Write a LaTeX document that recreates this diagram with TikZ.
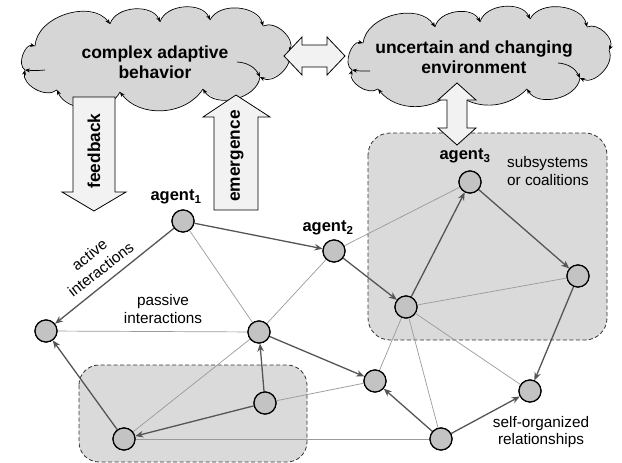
\documentclass[tikz,border=0pt]{standalone}
\usepackage{fontspec}
\setmainfont{Liberation Sans}
\usetikzlibrary{arrows.meta}
\definecolor{cloudfill}{HTML}{D6D6D6}
\definecolor{boxfill}{HTML}{DADADA}
\definecolor{nodefill}{HTML}{C3C3C3}
\definecolor{arrowfill}{HTML}{F2F2F2}
\definecolor{activecol}{HTML}{555555}
\definecolor{passivecol}{HTML}{9A9A9A}
\tikzset{
  agentnode/.style={circle,draw=black,line width=1.2pt,fill=nodefill,minimum size=22pt,inner sep=0pt},
  active/.style={draw=activecol,line width=1.3pt,-{Stealth[length=8pt,width=6.5pt,inset=2.5pt]}},
  passive/.style={draw=passivecol,line width=0.7pt},
  cloudline/.style={draw=black,line width=0.7pt,-{Stealth[length=5pt,width=4pt]}},
  bigarrow/.style={draw=black,line width=0.8pt,fill=arrowfill},
  groupbox/.style={draw=black!80,dash pattern=on 4pt off 2.5pt,line width=0.8pt,fill=boxfill,rounded corners=22pt},
  cloudtext/.style={font=\fontsize{17.5}{19.5}\selectfont\bfseries,align=center},
  agentlbl/.style={font=\fontsize{16.5}{19}\selectfont\bfseries},
  plain/.style={font=\fontsize{15.3}{17.5}\selectfont,align=center},
  arrowtext/.style={font=\fontsize{17.3}{19}\selectfont\bfseries,rotate=90}
}
\begin{document}
\begin{tikzpicture}[x=1pt,y=-1pt]
\useasboundingbox (0,0) rectangle (622,463);

% ---------- left cloud ----------
\begin{scope}[shift={(155,60)}]
  \coordinate (L1) at (-120,-14);
  \coordinate (L2) at (-45,-36);
  \coordinate (L3) at (5,-38);
  \coordinate (L4) at (55,-40);
  \coordinate (L5) at (108,-34);
  \coordinate (L6) at (134,-8);
  \coordinate (L7) at (105,17);
  \coordinate (L8) at (48,29);
  \coordinate (L9) at (-35,32);
  \coordinate (L10) at (-98,30);
  \coordinate (L11) at (-130,10);
  \coordinate (Li1) at (-110,10);
  \coordinate (Li2) at (82,2);
  \fill[cloudfill] (L1) to[bend left=70] (L2) to[bend left=70] (L3) to[bend left=70] (L4)
    to[bend left=70] (L5) to[bend left=70] (L6) to[bend left=70] (L7) to[bend left=70] (L8)
    to[bend left=55] (L9) to[bend left=65] (L10) to[bend left=70] (L11) to[bend left=80] (L1) -- cycle;
  \foreach \a/\b/\c in {L1/L2/70,L2/L3/70,L3/L4/70,L4/L5/70,L5/L6/70,L6/L7/70,L7/L8/70,L8/L9/55,L9/L10/65,L10/L11/70,L11/L1/80}
    \draw[cloudline] (\a) to[bend left=\c] (\b);
  \draw[cloudline] (Li1) to[bend left=5] (L11);
  \draw[cloudline] (Li2) to[bend left=30] (L7);
  \node[cloudtext] (cab) at (0,2) {complex adaptive\\behavior};
\end{scope}

% ---------- right cloud ----------
\begin{scope}[shift={(478,55)}]
  \coordinate (R1) at (-115,-12);
  \coordinate (R2) at (-43,-28);
  \coordinate (R3) at (2,-33);
  \coordinate (R4) at (52,-36);
  \coordinate (R5) at (109,-28);
  \coordinate (R6) at (131,-5);
  \coordinate (R7) at (102,23);
  \coordinate (R8) at (49,34);
  \coordinate (R9) at (-25,35);
  \coordinate (R10) at (-100,34);
  \coordinate (R11) at (-126,15);
  \coordinate (Ri1) at (-108,16);
  \coordinate (Ri2) at (80,8);
  \fill[cloudfill] (R1) to[bend left=70] (R2) to[bend left=70] (R3) to[bend left=70] (R4)
    to[bend left=70] (R5) to[bend left=70] (R6) to[bend left=70] (R7) to[bend left=70] (R8)
    to[bend left=45] (R9) to[bend left=50] (R10) to[bend left=70] (R11) to[bend left=80] (R1) -- cycle;
  \foreach \a/\b/\c in {R1/R2/70,R2/R3/70,R3/R4/70,R4/R5/70,R5/R6/70,R6/R7/70,R7/R8/70,R8/R9/45,R9/R10/50,R10/R11/70,R11/R1/80}
    \draw[cloudline] (\a) to[bend left=\c] (\b);
  \draw[cloudline] (Ri1) to[bend left=5] (R11);
  \draw[cloudline] (Ri2) to[bend left=30] (R7);
  \node[cloudtext] (uce) at (-4,2) {uncertain and changing\\environment};
\end{scope}

% ---------- group boxes ----------
\draw[groupbox] (368,133) rectangle (607,340);
\draw[groupbox,rounded corners=20pt] (79,365) rectangle (307,462);

% ---------- big arrows ----------
\draw[bigarrow] (284,56) -- (302,37) -- (302,45) -- (327,45) -- (327,37) -- (345,56)
  -- (327,75) -- (327,67) -- (302,67) -- (302,75) -- cycle;
\draw[bigarrow] (457,83) -- (476,100) -- (467,100) -- (467,128) -- (476,128) -- (457,145)
  -- (438,128) -- (447,128) -- (447,100) -- (438,100) -- cycle;
\draw[bigarrow] (73,97) -- (115,97) -- (115,192) -- (126,192) -- (94,211) -- (62,192) -- (73,192) -- cycle;
\draw[bigarrow] (214,210) -- (214,117) -- (203,117) -- (236,95) -- (270,117) -- (258,117) -- (258,210) -- cycle;
\node[arrowtext] (fb) at (94,151) {feedback};
\node[arrowtext] (em) at (237,156) {emergence};

% ---------- agents ----------
\node[agentnode] (a1) at (183,221) {};
\node[agentnode] (a2) at (334,251) {};
\node[agentnode] (a3) at (470,182) {};
\node[agentnode] (n4) at (578,276) {};
\node[agentnode] (n5) at (406,307) {};
\node[agentnode] (n6) at (46,331) {};
\node[agentnode] (n7) at (259,332) {};
\node[agentnode] (n8) at (124,439) {};
\node[agentnode] (n9) at (265,403) {};
\node[agentnode] (n10) at (375,381) {};
\node[agentnode] (n11) at (530,391) {};
\node[agentnode] (n12) at (441,439) {};

% ---------- passive interactions ----------
\draw[passive] (a1) -- (n7);
\draw[passive] (a2) -- (n7);
\draw[passive] (a2) -- (a3);
\draw[passive] (n6) -- (n7);
\draw[passive] (n7) -- (n8);
\draw[passive] (n5) -- (n4);
\draw[passive] (n5) -- (n10);
\draw[passive] (n5) -- (n12);
\draw[passive] (n5) -- (n11);
\draw[passive] (n9) -- (n10);
\draw[passive] (n8) -- (n12);

% ---------- active interactions ----------
\draw[active] (a1) -- (n6);
\draw[active] (a1) -- (a2);
\draw[active] (a2) -- (n5);
\draw[active] (n5) -- (a3);
\draw[active] (a3) -- (n4);
\draw[active] (n4) -- (n11);
\draw[active] (n7) -- (n10);
\draw[active] (n9) -- (n7);
\draw[active] (n9) -- (n8);
\draw[active] (n8) -- (n6);
\draw[active] (n12) -- (n10);
\draw[active] (n12) -- (n11);

% redraw agents on top of edges
\foreach \n in {a1,a2,a3,n4,n5,n6,n7,n8,n9,n10,n11,n12}
  \draw[line width=1.2pt,fill=nodefill] (\n.center) circle (11pt);

% ---------- labels ----------
\node[agentlbl] (la1) at (176,197) {agent\textsubscript{1}};
\node[agentlbl] (la2) at (328,228) {agent\textsubscript{2}};
\node[agentlbl] (la3) at (465,156) {agent\textsubscript{3}};
\node[plain,align=left] (lsub) at (548,171) {subsystems\\or coalitions};
\node[plain,rotate=38,font=\fontsize{15.3}{18.5}\selectfont] (lact) at (95,262) {active\\interactions};
\node[plain] (lpas) at (163,309) {passive\\interactions};
\node[plain] (lself) at (541,432) {self-organized\\relationships};
\end{tikzpicture}
\end{document}
